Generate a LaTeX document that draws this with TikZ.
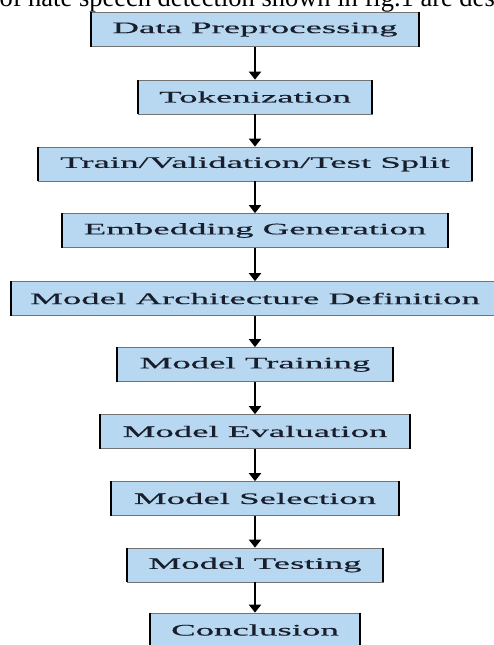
\documentclass[tikz,border=0pt]{standalone}
\usepackage{fontspec}
\setmainfont{Liberation Serif}
\newfontfamily\stagefont[FakeStretch=2.3,FakeBold=0.5]{Liberation Serif}
\usetikzlibrary{arrows.meta}
\definecolor{stageblue}{RGB}{183,216,240}
\definecolor{stagetext}{RGB}{25,30,45}

\begin{document}
\begin{tikzpicture}[x=1pt,y=-1pt,
    stage/.style={draw=black!55,line width=0.7pt,fill=stageblue,minimum height=34pt,inner sep=0pt,
      font=\stagefont\fontsize{16}{18}\selectfont,text=stagetext},
    flow/.style={-{Triangle[width=12pt,length=8pt]},line width=1.9pt}]
    \useasboundingbox (0,0) rectangle (493,645);
    \node[anchor=base west,font=\fontsize{26.5}{30}\selectfont] (para) at (-4,6) {of hate speech detection shown in fig.1 are des};
    \node[stage,minimum width=327pt] (prep) at (255,29.5) {Data Preprocessing};
    \node[stage,minimum width=234pt] (tok) at (255,97) {Tokenization};
    \node[stage,minimum width=434pt] (split) at (255,164) {Train/Validation/Test Split};
    \node[stage,minimum width=385pt] (embed) at (255,230.5) {Embedding Generation};
    \node[stage,minimum width=488pt] (arch) at (255,298.5) {Model Architecture Definition};
    \node[stage,minimum width=275pt] (train) at (255,364.5) {Model Training};
    \node[stage,minimum width=310pt] (eval) at (255,431.5) {Model Evaluation};
    \node[stage,minimum width=288pt] (select) at (255,498.5) {Model Selection};
    \node[stage,minimum width=256pt] (test) at (255,565) {Model Testing};
    \node[stage,minimum width=210pt] (concl) at (255,630) {Conclusion};
    \foreach \n in {prep,tok,split,embed,arch,train,eval,select,test,concl}
        \draw[line width=2.2pt] (\n.north west)--(\n.south west) (\n.north east)--(\n.south east);
    \draw[flow] (prep)--(tok);
    \draw[flow] (tok)--(split);
    \draw[flow] (split)--(embed);
    \draw[flow] (embed)--(arch);
    \draw[flow] (arch)--(train);
    \draw[flow] (train)--(eval);
    \draw[flow] (eval)--(select);
    \draw[flow] (select)--(test);
    \draw[flow] (test)--(concl);
\end{tikzpicture}
\end{document}
